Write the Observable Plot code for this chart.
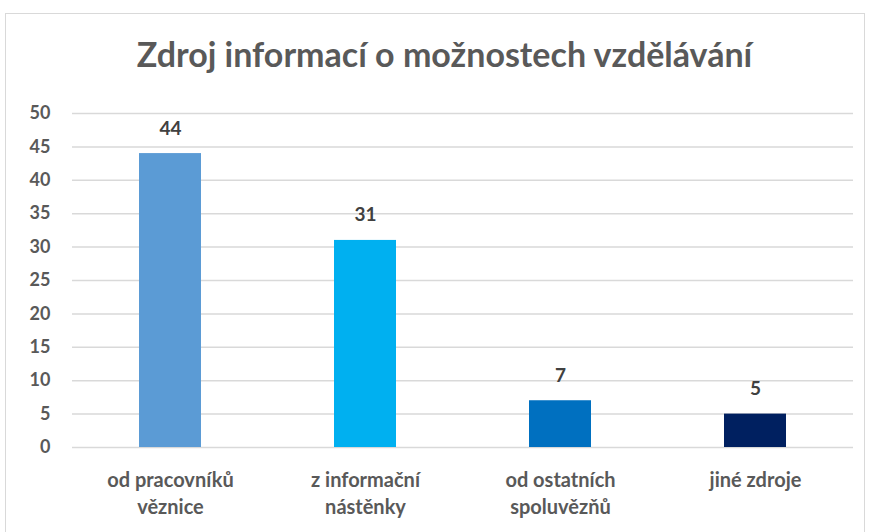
<!DOCTYPE html>
<html>
<head>
<meta charset="utf-8">
<script src="https://cdn.jsdelivr.net/npm/d3@7"></script>
<script src="https://cdn.jsdelivr.net/npm/@observablehq/plot@0.6"></script>
<style>
  html, body { margin: 0; padding: 0; background: #fff; }
  body { width: 869px; height: 532px; position: relative; overflow: hidden; font-family: Lato, "Open Sans", sans-serif; }
  #frame { position: absolute; left: 5px; top: 13px; width: 860px; height: 540px; border: 1px solid #d9d9d9; box-sizing: border-box; }
  #title { position: absolute; left: 0; top: 37px; width: 889px; text-align: center; font-size: 34px; line-height: 1; font-weight: 700; color: #595959; }
  #chart { position: absolute; left: 0; top: 0; }
</style>
</head>
<body>
<div id="frame"></div>
<div id="title">Zdroj informací o možnostech vzdělávání</div>
<div id="chart"></div>
<script>
const categories = ["od pracovníků věznice", "z informační nástěnky", "od ostatních spoluvězňů", "jiné zdroje"];
const labels = ["od pracovníků\nvěznice", "z informační\nnástěnky", "od ostatních\nspoluvězňů", "jiné zdroje"];
const values = [44, 31, 7, 5];
const colors = ["#5B9BD5", "#00B0F0", "#0070C0", "#002060"];
const yTicks = [0, 5, 10, 15, 20, 25, 30, 35, 40, 45, 50];

const data = categories.map((c, i) => ({category: c, label: labels[i], value: values[i], color: colors[i]}));

const chart = Plot.plot({
  width: 869,
  height: 532,
  marginLeft: 72,
  marginRight: 16,
  marginTop: 113,
  marginBottom: 85,
  style: {fontFamily: "Lato, 'Open Sans', sans-serif", background: "transparent", overflow: "visible"},
  x: {domain: categories, paddingInner: 0.68, paddingOuter: 0.34, axis: null},
  y: {domain: [0, 50], axis: null},
  marks: [
    Plot.ruleY(yTicks, {stroke: "#d9d9d9", strokeWidth: 1.5}),
    Plot.barY(data, {x: "category", y: "value", fill: "color"}),
    Plot.text(yTicks, {y: d => d, frameAnchor: "left", textAnchor: "end", dx: -22, text: d => String(d), fill: "#595959", fontSize: 18, fontWeight: 700}),
    Plot.text(data, {x: "category", y: "value", text: d => String(d.value), lineAnchor: "bottom", dy: -19, fill: "#404040", fontSize: 19, fontWeight: 700}),
    Plot.text(data, {x: "category", y: 0, text: "label", lineAnchor: "top", dy: 20, lineHeight: 1.35, fill: "#595959", fontSize: 20, fontWeight: 700})
  ]
});
document.getElementById("chart").appendChild(chart);
</script>
</body>
</html>
